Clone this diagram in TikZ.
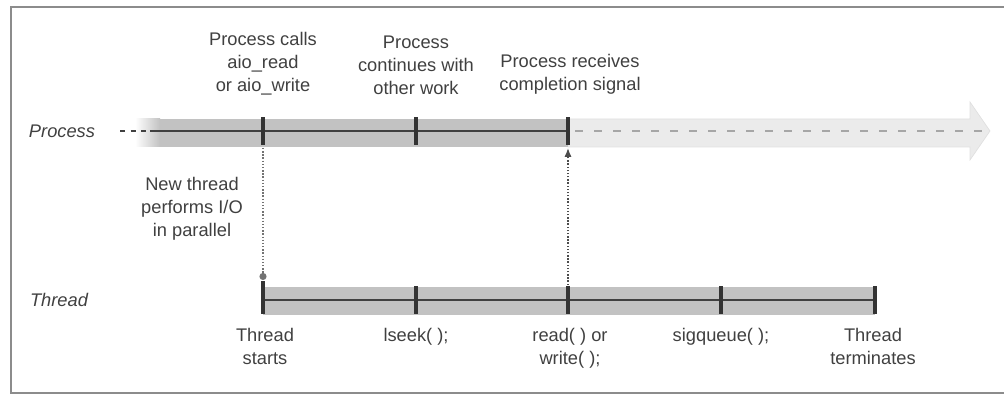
\documentclass[tikz,border=0pt]{standalone}
\usepackage{fontspec}
\setmainfont{Liberation Sans}
\usetikzlibrary{arrows.meta, positioning, calc}

\begin{document}
\begin{tikzpicture}[
    >=Latex,
    label/.style={align=center, inner sep=0pt, text=black!75, font=\fontsize{10.4}{13}\selectfont},
    rowname/.style={label, font=\fontsize{10.4}{13}\selectfont\itshape},
    band/.style={fill=black!24, draw=none},
    lightband/.style={fill=black!8, draw=black!12, line width=0.4pt},
    timeline/.style={draw=black!75, line width=1.2pt},
    tick/.style={draw=black!80, line width=2pt},
    link/.style={draw=black!55, densely dotted, line width=0.8pt}
]
\useasboundingbox (0,0) rectangle (20.08,7.92);

% Frame
\draw[black!45, line width=1.1pt] (20.08,7.78) -- (0.22,7.78) -- (0.22,0.06) -- (20.08,0.06);

% ==================== Process row ====================
\node[rowname] (ProcName) at (1.24, 5.30) {Process};

\fill[lightband] (11.36,4.98) -- (19.40,4.98) -- (19.40,4.72) -- (19.80,5.30)
    -- (19.40,5.88) -- (19.40,5.54) -- (11.36,5.54) -- cycle;
\draw[black!35, dash pattern=on 0.16cm off 0.22cm, line width=0.9pt] (11.50,5.30) -- (19.80,5.30);

\shade[left color=white, right color=black!24] (2.70,4.98) rectangle (3.20,5.54);
\fill[band] (3.20,4.98) rectangle (11.36,5.54);

\coordinate (p1) at (5.26, 5.30);
\coordinate (p2) at (8.32, 5.30);
\coordinate (p3) at (11.36, 5.30);

\draw[black!75, dashed, line width=1.2pt] (2.40,5.30) -- (3.00,5.30);
\draw[timeline] (3.00,5.30) -- (p3);
\foreach \t in {p1, p2, p3}
    \draw[tick] ($(\t)+(0,-0.28)$) -- ($(\t)+(0,0.28)$);

\node[label, anchor=south] (call) at (5.26, 6.02) {Process calls\\aio\_read\\or aio\_write};
\node[label, anchor=south] (work) at (8.32, 6.02) {Process\\continues with\\other work};
\node[label, anchor=south] (signal) at (11.40, 6.02) {Process receives\\completion signal};

% ==================== Thread row ====================
\node[rowname] (ThreadName) at (1.18, 1.92) {Thread};

\fill[band] (5.26,1.62) rectangle (17.50,2.18);

\coordinate (t1) at (5.26, 1.92);
\coordinate (t2) at (8.32, 1.92);
\coordinate (t3) at (11.36, 1.92);
\coordinate (t4) at (14.42, 1.92);
\coordinate (t5) at (17.50, 1.92);

\draw[timeline] (t1) -- (t5);
\foreach \t in {t1, t2, t3, t4, t5}
    \draw[tick] ($(\t)+(0,-0.28)$) -- ($(\t)+(0,0.28)$);
\draw[tick] (t1) -- ($(t1)+(0,0.38)$);

\node[label, anchor=north] (start) at (5.30, 1.36) {Thread\\starts};
\node[label, anchor=north] (lseek) at (8.32, 1.36) {lseek( );};
\node[label, anchor=north] (rw) at (11.40, 1.36) {read( ) or\\write( );};
\node[label, anchor=north] (sigq) at (14.42, 1.36) {sigqueue( );};
\node[label, anchor=north] (term) at (17.46, 1.36) {Thread\\terminates};

\node[label] (newthread) at (3.84, 3.74) {New thread\\performs I/O\\in parallel};

% Connections Process <-> Thread
\coordinate (p1b) at ($(p1)+(0,-0.34)$);
\coordinate (t1a) at ($(t1)+(0,0.40)$);
\coordinate (p3b) at ($(p3)+(0,-0.34)$);
\coordinate (t3a) at ($(t3)+(0,0.30)$);
\draw[link, -{Circle[length=4pt]}] (p1b) -- (t1a);
\draw[link, -{Latex[length=5pt, width=4pt]}, black!70] (t3a) -- (p3b);

\end{tikzpicture}
\end{document}
